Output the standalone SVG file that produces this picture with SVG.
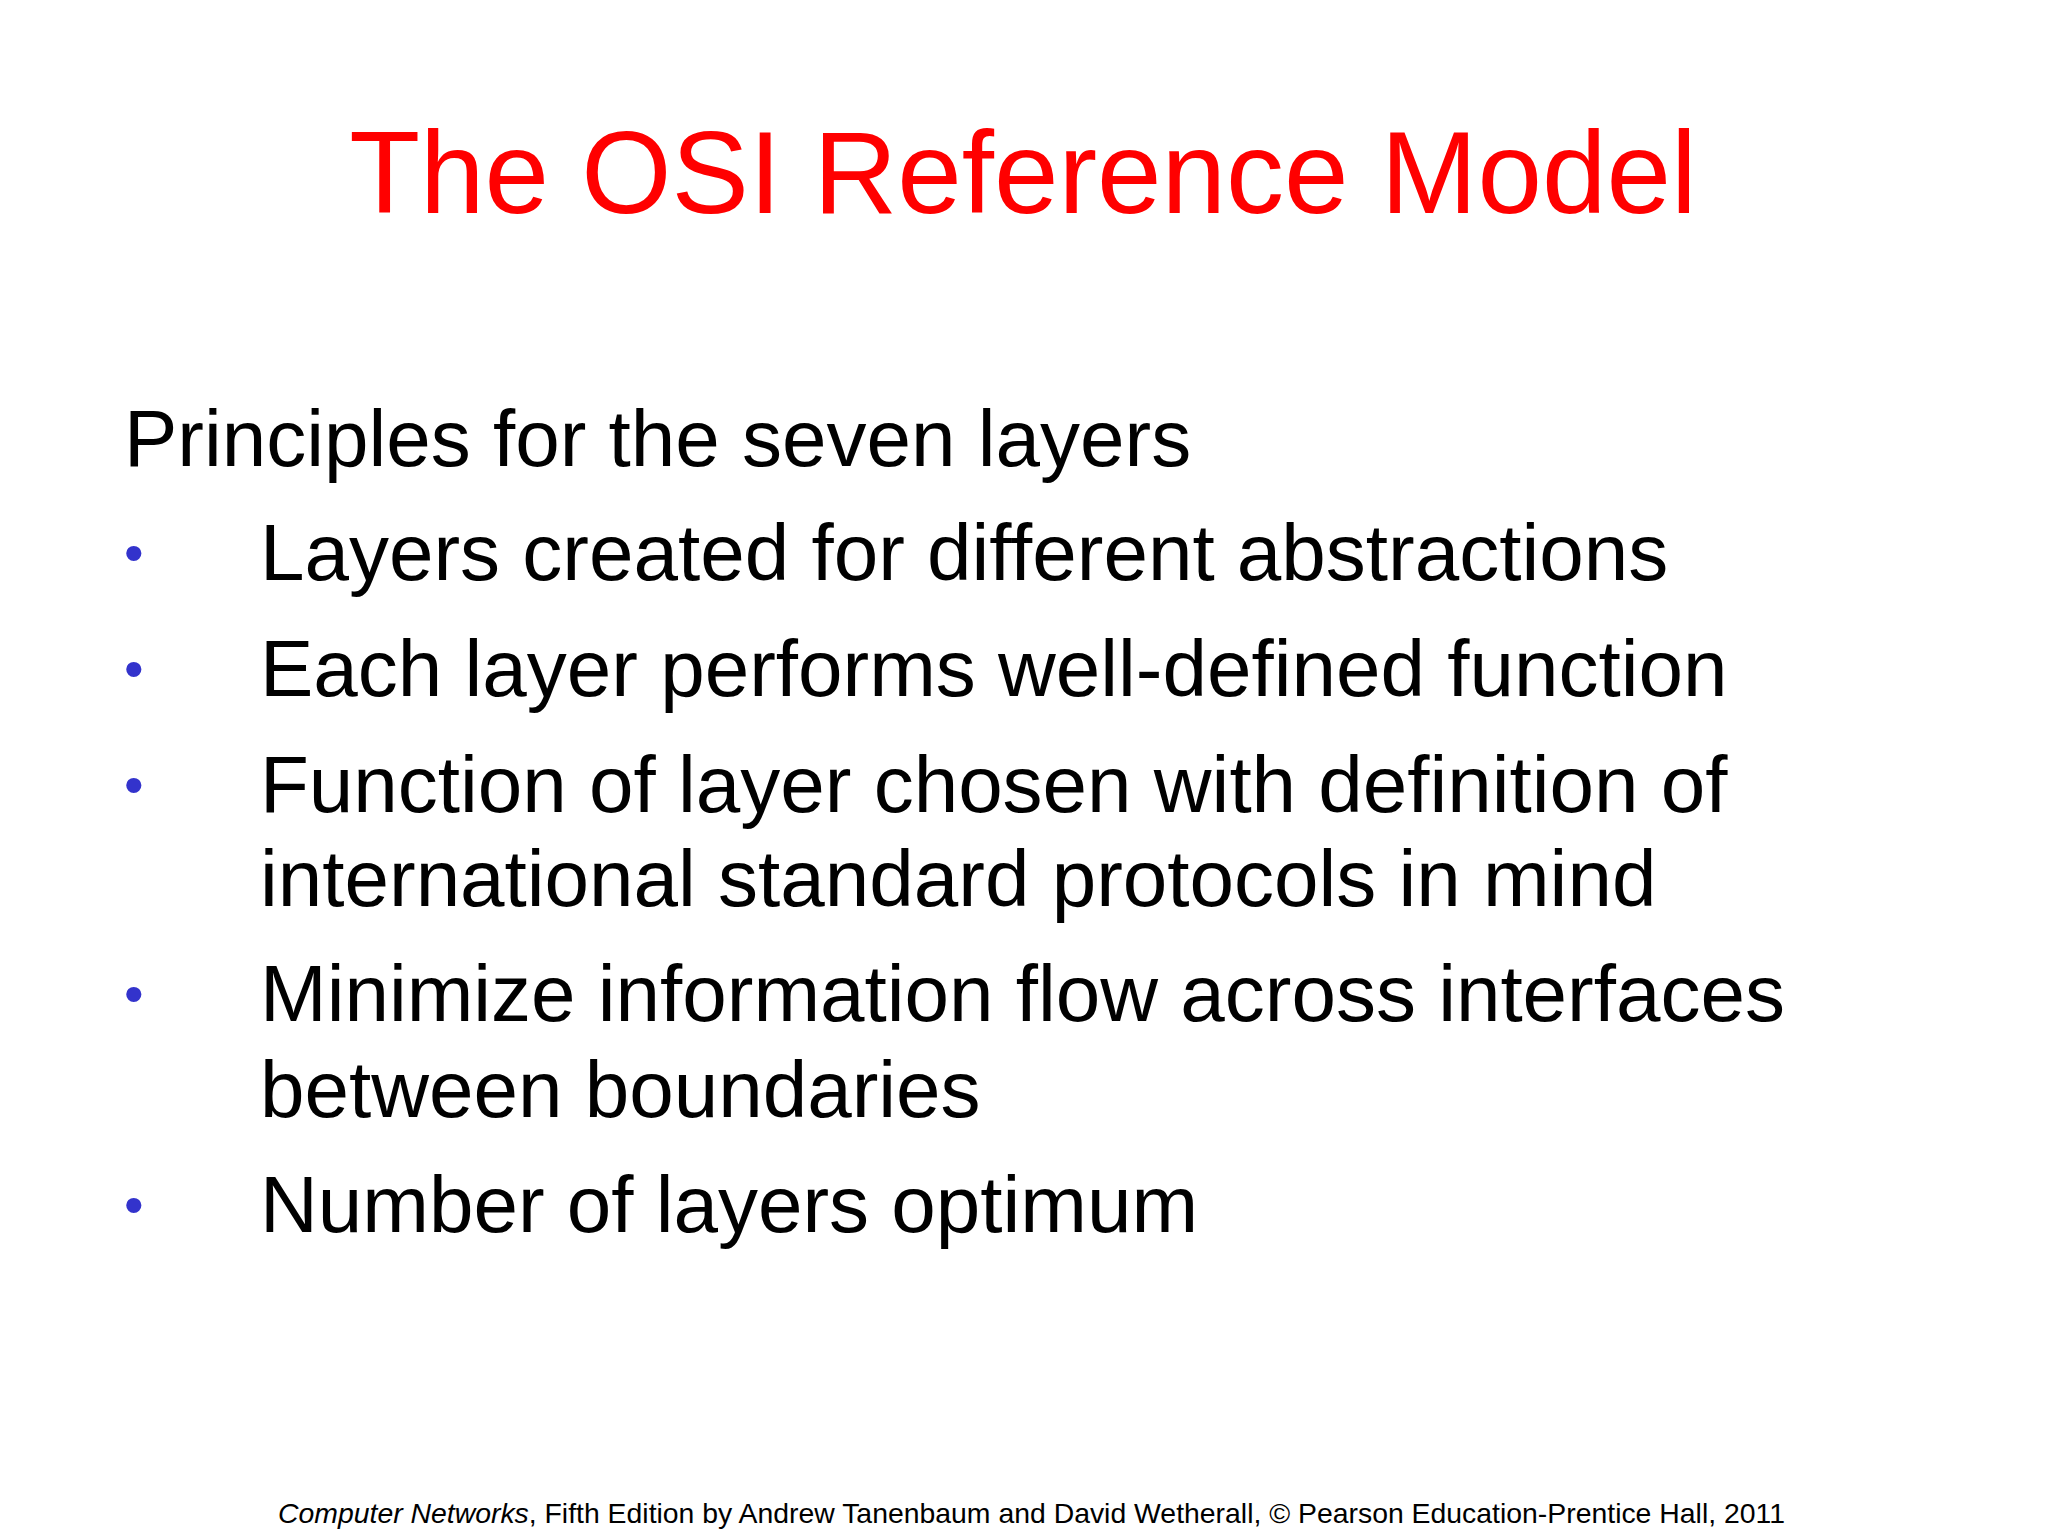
<svg xmlns="http://www.w3.org/2000/svg" width="2048" height="1536" viewBox="0 0 2048 1536">
<style>
text{font-family:"Liberation Sans",Arial,sans-serif;fill:#000}
.b{font-size:80px}
.d{fill:#3333cc;font-size:56px}
</style>
<rect width="2048" height="1536" fill="#fff"/>
<text x="1023" y="213" text-anchor="middle" font-size="116" style="fill:#ff0000">The OSI Reference Model</text>
<text class="b" x="124" y="466">Principles for the seven layers</text>
<g class="d">
<text x="124" y="572" class="d">•</text>
<text x="124" y="688" class="d">•</text>
<text x="124" y="804" class="d">•</text>
<text x="124" y="1013" class="d">•</text>
<text x="124" y="1224" class="d">•</text>
</g>
<text class="b" x="260" y="580">Layers created for different abstractions</text>
<text class="b" x="260" y="696">Each layer performs well-defined function</text>
<text class="b" x="260" y="812">Function of layer chosen with definition of</text>
<text class="b" x="260" y="906">international standard protocols in mind</text>
<text class="b" x="260" y="1021">Minimize information flow across interfaces</text>
<text class="b" x="260" y="1117">between boundaries</text>
<text class="b" x="260" y="1232">Number of layers optimum</text>
<text x="278" y="1523" font-size="28" textLength="1507" lengthAdjust="spacingAndGlyphs"><tspan font-style="italic">Computer Networks</tspan>, Fifth Edition by Andrew Tanenbaum and David Wetherall, © Pearson Education-Prentice Hall, 2011</text>
</svg>
